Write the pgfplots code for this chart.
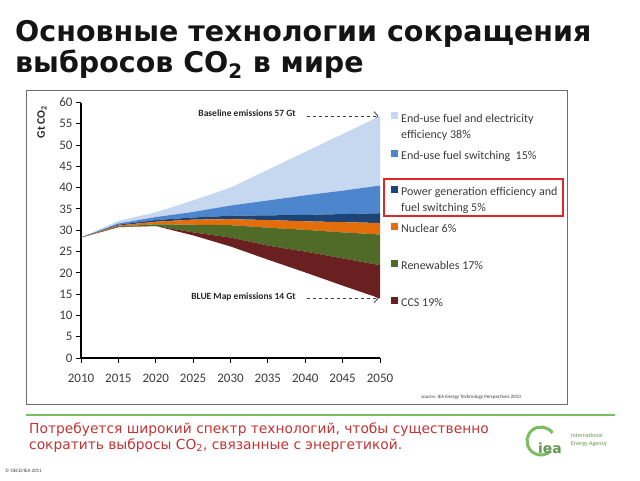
\documentclass[border=0pt]{standalone}
\usepackage{fontspec}
\setmainfont{Carlito}
\newfontfamily\ruf{DejaVu Sans}
\usepackage{pgfplots}
\pgfplotsset{compat=1.18}
\usepackage{pgfplotstable}
\usetikzlibrary{arrows.meta}

\definecolor{effblue}{RGB}{197,216,240}
\definecolor{fswblue}{RGB}{78,134,206}
\definecolor{powblue}{RGB}{28,68,118}
\definecolor{nucorange}{RGB}{228,110,12}
\definecolor{rengreen}{RGB}{80,106,40}
\definecolor{ccsred}{RGB}{106,32,32}
\definecolor{txtgray}{RGB}{60,60,60}
\definecolor{framegray}{RGB}{110,110,110}
\definecolor{boxred}{RGB}{220,40,40}
\definecolor{slidered}{RGB}{196,52,52}
\definecolor{ieagreen}{RGB}{122,190,100}

% reductions stacked on top of the BLUE Map path (Gt CO2)
\pgfplotstableread{
year base ccs ren nuc pow fsw eff
2010 28.3 0.0 0.0 0.0 0.0 0.0 0.0
2015 30.7 0.1 0.1 0.2 0.2 0.3 0.6
2020 31.0 0.0 0.4 0.6 0.4 0.7 1.1
2025 28.8 0.7 1.8 1.2 0.5 1.3 2.7
2030 26.2 2.1 2.9 1.4 0.8 2.4 4.2
2035 23.1 3.3 4.2 1.8 1.1 3.5 7.2
2040 20.1 4.9 5.1 2.0 1.5 4.6 10.2
2045 17.0 6.4 6.1 2.4 1.9 5.5 13.3
2050 14.0 7.8 7.2 2.7 2.3 6.5 16.3
}\emis

\begin{document}
\begin{tikzpicture}
\path[use as bounding box] (0pt,0pt) rectangle (640pt,-480pt);
\fill[white] (0pt,0pt) rectangle (640pt,-480pt);

% title
\node[anchor=base west, inner sep=0pt, text=black!92,
  font=\ruf\bfseries\fontsize{28.5}{32}\selectfont] at (15pt,-41pt)
  {Основные технологии сокращения};
\node[anchor=base west, inner sep=0pt, text=black!92,
  font=\ruf\bfseries\fontsize{28.5}{32}\selectfont] at (15pt,-72pt)
  {выбросов CO\textsubscript{2} в мире};

% chart frame
\draw[framegray, line width=1pt] (26pt,-90pt) rectangle (567pt,-404pt);

\begin{axis}[
  at={(81pt,-358pt)}, anchor=south west,
  scale only axis, width=299pt, height=255.5pt,
  xmin=2010, xmax=2050, ymin=0, ymax=60,
  xtick={2010,2015,...,2050}, ytick={0,5,...,60},
  axis x line*=bottom, axis y line*=left,
  axis line style={-, black, line width=1.3pt},
  tick align=outside, major tick length=5pt,
  tick style={black, line width=1pt},
  tick label style={font=\fontsize{13}{15}\selectfont, text=txtgray},
  xticklabel style={yshift=-8pt},
  /pgf/number format/1000 sep={},
  /pgf/number format/assume math mode=true,
  stack plots=y,
]
\addplot[draw=none, fill=none] table[x=year, y=base] {\emis};
\addplot[draw=none, fill=ccsred] table[x=year, y=ccs] {\emis} \closedcycle;
\addplot[draw=none, fill=rengreen] table[x=year, y=ren] {\emis} \closedcycle;
\addplot[draw=none, fill=nucorange] table[x=year, y=nuc] {\emis} \closedcycle;
\addplot[draw=none, fill=powblue] table[x=year, y=pow] {\emis} \closedcycle;
\addplot[draw=none, fill=fswblue] table[x=year, y=fsw] {\emis} \closedcycle;
\addplot[draw=none, fill=effblue] table[x=year, y=eff] {\emis} \closedcycle;

\draw[black!75, dashed, line width=0.8pt, -{Straight Barb[length=4pt, width=9pt]}]
  (axis cs:2040.2,56.8) -- (axis cs:2049.8,56.8);
\draw[black!75, dashed, line width=0.8pt, -{Straight Barb[length=4pt, width=9pt]}]
  (axis cs:2040.2,14.0) -- (axis cs:2049.8,14.0);
\node[anchor=east, font=\bfseries\fontsize{9.5}{11}\selectfont, text=black!85]
  at (axis cs:2039.2,57.6) {Baseline emissions 57 Gt};
\node[anchor=east, font=\bfseries\fontsize{9.5}{11}\selectfont, text=black!85]
  at (axis cs:2039.2,14.3) {BLUE Map emissions 14 Gt};
\end{axis}

% y label
\node[rotate=90, font=\bfseries\fontsize{11.5}{13}\selectfont, text=black!85]
  at (42pt,-122pt) {Gt CO\textsubscript{2}};

% legend
\begin{scope}[every node/.style={anchor=base west, inner sep=0pt, text=txtgray,
    font=\fontsize{12}{14}\selectfont}]
\fill[effblue]   (391pt,-112pt) rectangle (398pt,-119pt);
\node at (401pt,-122pt) {End-use fuel and\ electricity};
\node at (401pt,-138pt) {efficiency 38\%};
\fill[fswblue]   (391pt,-150pt) rectangle (398pt,-157pt);
\node at (401pt,-159pt) {End-use fuel switching\ \ 15\%};
\fill[powblue]   (391pt,-186pt) rectangle (398pt,-193pt);
\node at (401pt,-195pt) {Power generation efficiency and};
\node at (401pt,-211pt) {fuel switching 5\%};
\fill[nucorange] (391pt,-223pt) rectangle (398pt,-230pt);
\node at (401pt,-232pt) {Nuclear 6\%};
\fill[rengreen]  (391pt,-260pt) rectangle (398pt,-267pt);
\node at (401pt,-269pt) {Renewables 17\%};
\fill[ccsred]    (391pt,-297pt) rectangle (398pt,-304pt);
\node at (401pt,-306pt) {CCS 19\%};
\end{scope}
\draw[boxred, line width=1.5pt] (384pt,-179pt) rectangle (563pt,-216pt);

% source
\node[anchor=base east, inner sep=0pt, text=txtgray, font=\fontsize{5}{6}\selectfont]
  at (521pt,-398pt) {source: IEA Energy Technology Perspectives 2010};

% green rule and note
\draw[ieagreen, line width=2.5pt] (26pt,-415pt) -- (615pt,-415pt);
\node[anchor=base west, inner sep=0pt, text=slidered, font=\ruf\fontsize{13.8}{16}\selectfont]
  at (29pt,-433pt) {Потребуется широкий спектр технологий, чтобы существенно};
\node[anchor=base west, inner sep=0pt, text=slidered, font=\ruf\fontsize{13.8}{16}\selectfont]
  at (29pt,-449pt) {сократить выбросы CO\textsubscript{2}, связанные с энергетикой.};

% IEA logo
\draw[ieagreen, line width=3pt] (541pt,-441pt) ++(35:14pt) arc (35:315:14pt);
\node[anchor=base, inner sep=0pt, text=ieagreen!80!black, font=\ruf\bfseries\fontsize{14}{16}\selectfont]
  at (550pt,-453pt) {iea};
\node[anchor=base west, inner sep=0pt, text=ieagreen!80!black, font=\fontsize{6}{7}\selectfont]
  at (571pt,-437pt) {International};
\node[anchor=base west, inner sep=0pt, text=ieagreen!80!black, font=\fontsize{6}{7}\selectfont]
  at (571pt,-445pt) {Energy Agency};

\node[anchor=base west, inner sep=0pt, text=txtgray, font=\fontsize{5}{6}\selectfont]
  at (5pt,-472pt) {\textcopyright\ OECD/IEA 2011};
\end{tikzpicture}
\end{document}
